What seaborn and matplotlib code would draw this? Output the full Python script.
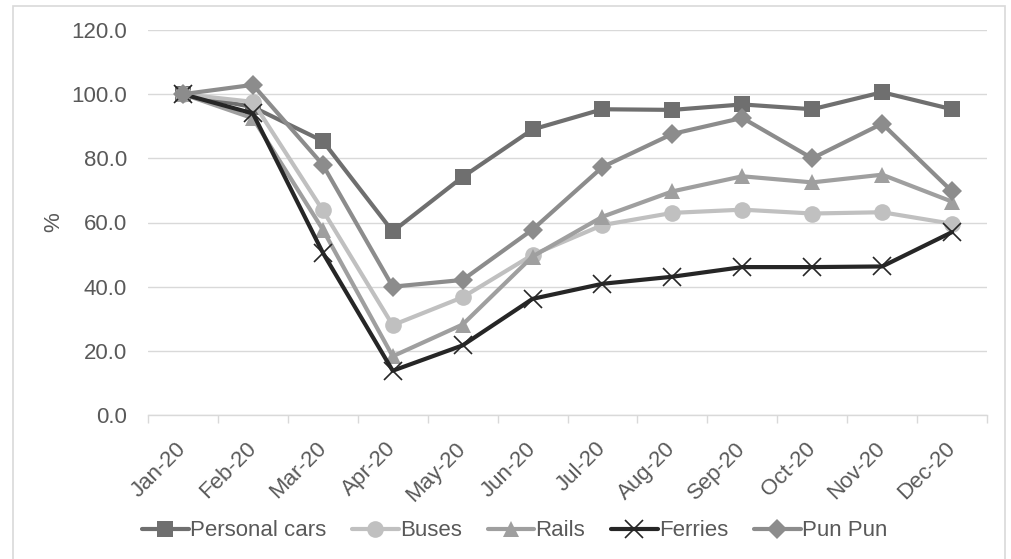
import matplotlib
matplotlib.use("Agg")
import matplotlib.pyplot as plt
import numpy as np
import pandas as pd
import seaborn as sns
from matplotlib.patches import Rectangle
from matplotlib.ticker import FixedLocator, FuncFormatter

# Monthly mobility index (% of January 2020 level)
months = ["Jan-20", "Feb-20", "Mar-20", "Apr-20", "May-20", "Jun-20",
          "Jul-20", "Aug-20", "Sep-20", "Oct-20", "Nov-20", "Dec-20"]
personal_cars = [100.0, 96.0, 85.4, 57.2, 74.2, 89.0, 95.3, 95.1, 96.8, 95.3, 100.6, 95.3]
buses = [100.0, 97.6, 63.8, 28.0, 36.7, 49.9, 59.2, 63.0, 64.0, 62.8, 63.2, 59.6]
rails = [100.0, 92.5, 57.8, 18.3, 28.2, 49.4, 61.8, 69.7, 74.4, 72.5, 74.9, 66.5]
ferries = [100.0, 94.0, 50.6, 13.8, 21.7, 36.2, 40.9, 43.1, 46.1, 46.1, 46.3, 57.0]
pun_pun = [100.0, 102.9, 78.0, 40.0, 42.1, 57.8, 77.3, 87.6, 92.6, 80.0, 90.8, 69.7]
y_ticks = [0, 20, 40, 60, 80, 100, 120]

series = [
    ("Personal cars", personal_cars, "#6f6f6f", "s", 11.5, 0.0),
    ("Buses", buses, "#c0c0c0", "o", 12.0, 0.0),
    ("Rails", rails, "#9f9f9f", "^", 12.0, 0.0),
    ("Ferries", ferries, "#262626", "x", 13.0, 1.2),
    ("Pun Pun", pun_pun, "#8c8c8c", "D", 10.5, 0.0),
]

FS = 16
TXT = "#595959"

sns.set_theme(style="white")
plt.rcParams["font.family"] = ["Liberation Sans", "DejaVu Sans"]

fig = plt.figure(figsize=(10.11, 5.59), dpi=100)
ax = fig.add_axes([148 / 1011, 1 - 415 / 559, (987 - 148) / 1011, (415 - 30) / 559])

x = np.arange(len(months))
for i, (name, vals, color, marker, ms, mew) in enumerate(series):
    df = pd.DataFrame({"month": x, "value": vals})
    kw = dict(marker=marker, markersize=ms, markeredgewidth=mew,
              markeredgecolor=color, markerfacecolor=color)
    sns.lineplot(data=df, x="month", y="value", ax=ax, color=color,
                 linewidth=3.0, label=name, zorder=3 + i, **kw)

ax.set_xlim(-0.5, len(months) - 0.5)
ax.set_ylim(0, 120)
ax.yaxis.set_major_locator(FixedLocator(y_ticks))
ax.yaxis.set_major_formatter(FuncFormatter(lambda v, _: f"{v:.1f}"))
ax.grid(axis="y", color="#d9d9d9", linewidth=1.0)
ax.set_axisbelow(True)

ax.set_xticks(x)
ax.set_xticklabels(months, rotation=45, ha="right", va="center",
                   rotation_mode="anchor")
ax.set_xticks(np.arange(-0.5, len(months)), minor=True)
ax.tick_params(axis="x", which="major", length=0, pad=22,
               labelsize=FS, labelcolor=TXT)
ax.tick_params(axis="x", which="minor", length=6, width=1.0,
               color="#d9d9d9", direction="out", bottom=True)
ax.tick_params(axis="y", length=0, pad=15, labelsize=FS, labelcolor=TXT)

for side in ("top", "right", "left"):
    ax.spines[side].set_visible(False)
ax.spines["bottom"].set_color("#d9d9d9")
ax.spines["bottom"].set_linewidth(1.0)

ax.set_xlabel("")
ax.set_ylabel("%", fontsize=FS, color=TXT, labelpad=5)

handles, labels = ax.get_legend_handles_labels()
if ax.legend_:
    ax.legend_.remove()
fig.legend(handles, labels, loc="center", bbox_to_anchor=(0.509, 1 - 531 / 559),
           ncol=5, frameon=False, fontsize=FS, handlelength=2.1,
           handletextpad=0.05, columnspacing=1.17, labelcolor=TXT)

# light chart-area border
fig.patches.append(Rectangle((13 / 1011, -0.05), (1005 - 13) / 1011, 1.05 - 6 / 559,
                             transform=fig.transFigure, fill=False,
                             edgecolor="#d9d9d9", linewidth=1.2, zorder=0))

fig.savefig("out.png", dpi=100, facecolor="white")
